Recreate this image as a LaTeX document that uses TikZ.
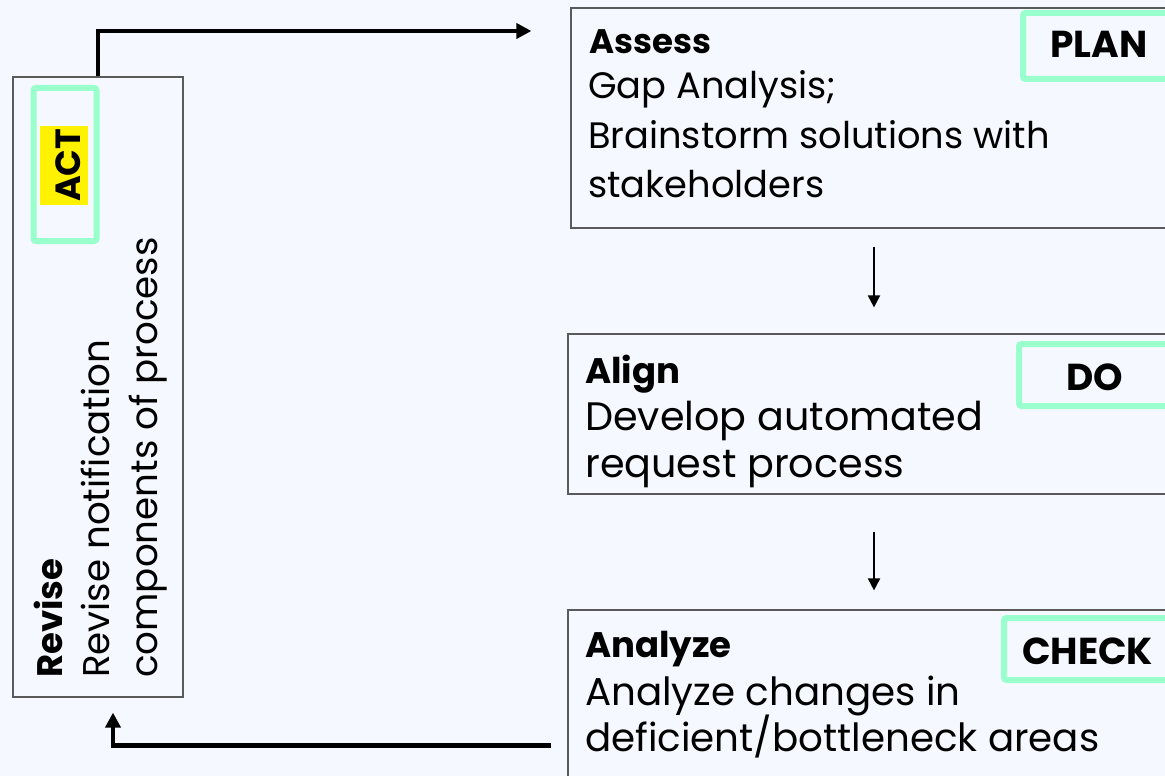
\documentclass[tikz,border=0pt]{standalone}
\usepackage{fontspec}
\setmainfont{Poppins}
\usetikzlibrary{arrows.meta}
\definecolor{bg}{RGB}{245,248,254}
\definecolor{mint}{RGB}{153,255,204}
\definecolor{frame}{RGB}{90,90,90}
\begin{document}
\begin{tikzpicture}[x=1pt,y=-1pt,
  box/.style={draw=frame,line width=1.2pt,inner sep=0pt},
  tag/.style={draw=mint,line width=6pt,rounded corners=2.5pt,inner sep=0pt},
  txt/.style={anchor=base west,inner sep=0pt},
  rtxt/.style={anchor=base west,inner sep=0pt,rotate=90},
  lbl/.style={anchor=base,inner sep=0pt,font=\fontsize{37.5}{40}\selectfont\bfseries},
  bigarrow/.style={line width=4.8pt,-{Triangle[length=15pt,width=15pt]}},
  smallarrow/.style={line width=2pt,-{Triangle[length=12pt,width=12pt]}},
  fAss/.style={font=\fontsize{36.8}{44}\selectfont},
  fAli/.style={font=\fontsize{39.7}{44}\selectfont},
  fAna/.style={font=\fontsize{38.8}{44}\selectfont},
  fRev/.style={font=\fontsize{37.2}{44}\selectfont},
  fHead/.style={font=\fontsize{34}{40}\selectfont\bfseries},
  fHeadB/.style={font=\fontsize{35.5}{40}\selectfont\bfseries}
]
\fill[bg] (0,0) rectangle (1165,776);
\useasboundingbox (0,0) rectangle (1165,776);
\clip (0,0) rectangle (1165,776);

% boxes
\node[box,minimum width=170pt,minimum height=620pt] (revise) at (98,387) {};
\node[box,minimum width=629pt,minimum height=220pt] (assess) at (885.5,118) {};
\node[box,minimum width=632pt,minimum height=160pt] (align) at (884,414) {};
\node[box,minimum width=632pt,minimum height=190pt] (analyze) at (884,705) {};

% green tags
\node[tag,minimum width=63pt,minimum height=153pt] (acttag) at (65,164.5) {};
\node[tag,minimum width=177pt,minimum height=66pt] (plantag) at (1111.5,46) {};
\node[tag,minimum width=181pt,minimum height=62pt] (dotag) at (1109.5,375) {};
\node[tag,minimum width=196pt,minimum height=62pt] (checktag) at (1102,649) {};

% tag labels
\node[lbl] (plan) at (1099,58) {PLAN};
\node[lbl] (do) at (1094.5,390) {DO};
\node[lbl] (check) at (1087.5,664) {CHECK};
\node[rtxt,fill=yellow,inner xsep=3pt,text height=40pt,text depth=8pt,
      font=\fontsize{35}{40}\selectfont\bfseries] (act) at (80,205) {ACT};

% Assess
\node[txt,fHead] (assessh) at (589,54) {Assess};
\node[txt,fAss] (assess1) at (588,99) {Gap Analysis;};
\node[txt,fAss] (assess2) at (588,148) {Brainstorm solutions with};
\node[txt,fAss] (assess3) at (588,197) {stakeholders};

% Align
\node[txt,fHeadB] (alignh) at (585,383) {Align};
\node[txt,fAli] (align1) at (585,430) {Develop automated};
\node[txt,fAli] (align2) at (585,477) {request process};

% Analyze
\node[txt,fHeadB] (analyzeh) at (585,657) {Analyze};
\node[txt,fAna] (analyze1) at (585,705) {Analyze changes in};
\node[txt,fAna] (analyze2) at (585,751) {deficient/bottleneck areas};

% Revise (rotated)
\node[rtxt,fHeadB] (reviseh) at (62,678) {Revise};
\node[rtxt,fRev] (revise1) at (109,678) {Revise notification};
\node[rtxt,fRev] (revise2) at (157,678) {components of process};

% connectors
\coordinate (ytop) at (0,31);
\coordinate (xdown) at (874,0);
\coordinate (ybot) at (0,745.7);
\coordinate (xup) at (113,0);
\draw[bigarrow,shorten >=39pt] (revise.north) |- (assess.west |- ytop);
\draw[smallarrow,shorten <=18pt,shorten >=26pt] (assess.south -| xdown) -- (align.north -| xdown);
\draw[smallarrow,shorten <=37pt,shorten >=19pt] (align.south -| xdown) -- (analyze.north -| xdown);
\draw[bigarrow,shorten <=16pt,shorten >=15pt] (analyze.west |- ybot) -| (revise.south -| xup);
\end{tikzpicture}
\end{document}
